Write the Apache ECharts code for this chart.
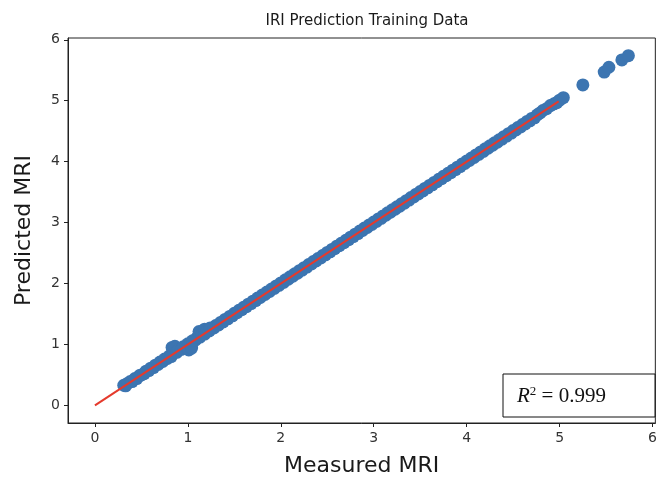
<!DOCTYPE html>
<html>
<head>
<meta charset="utf-8">
<script src="https://cdn.jsdelivr.net/npm/echarts@6/dist/echarts.min.js"></script>
<style>
  html, body { margin: 0; padding: 0; background: #fff; }
  #chart { width: 660px; height: 483px; }
</style>
</head>
<body>
<div id="chart"></div>
<script>
// measured vs predicted MRI
const measured = [
  0.31, 0.33, 0.35, 0.38, 0.40, 0.43, 0.45, 0.48, 0.50, 0.53,
  0.55, 0.58, 0.60, 0.63, 0.65, 0.68, 0.70, 0.73, 0.75, 0.78,
  0.80, 0.82, 0.83, 0.85, 0.86, 0.88, 0.90, 0.93, 0.95, 0.98,
  1.00, 1.01, 1.03, 1.04, 1.05, 1.08, 1.10, 1.12, 1.13, 1.15,
  1.18, 1.18, 1.20, 1.23, 1.24, 1.25, 1.28, 1.30, 1.33, 1.35,
  1.38, 1.40, 1.43, 1.45, 1.48, 1.50, 1.53, 1.55, 1.58, 1.60,
  1.63, 1.65, 1.68, 1.70, 1.73, 1.75, 1.78, 1.80, 1.83, 1.85,
  1.88, 1.90, 1.93, 1.95, 1.98, 2.00, 2.03, 2.05, 2.08, 2.10,
  2.13, 2.15, 2.18, 2.20, 2.23, 2.25, 2.28, 2.30, 2.33, 2.35,
  2.38, 2.40, 2.43, 2.45, 2.48, 2.50, 2.53, 2.55, 2.58, 2.60,
  2.63, 2.65, 2.68, 2.70, 2.73, 2.75, 2.78, 2.80, 2.83, 2.85,
  2.88, 2.90, 2.93, 2.95, 2.98, 3.00, 3.03, 3.05, 3.08, 3.10,
  3.13, 3.15, 3.18, 3.20, 3.23, 3.25, 3.28, 3.30, 3.33, 3.35,
  3.38, 3.40, 3.43, 3.45, 3.48, 3.50, 3.53, 3.55, 3.58, 3.60,
  3.63, 3.65, 3.68, 3.70, 3.73, 3.75, 3.78, 3.80, 3.83, 3.85,
  3.88, 3.90, 3.93, 3.95, 3.98, 4.00, 4.03, 4.05, 4.08, 4.10,
  4.13, 4.15, 4.18, 4.20, 4.23, 4.25, 4.28, 4.30, 4.33, 4.35,
  4.38, 4.40, 4.43, 4.45, 4.48, 4.50, 4.53, 4.55, 4.58, 4.60,
  4.63, 4.65, 4.68, 4.70, 4.73, 4.76, 4.79, 4.82, 4.86, 4.90,
  4.94, 4.97, 5.00, 5.04, 5.25, 5.48, 5.53, 5.67, 5.74
];
const predicted = [
  0.33, 0.32, 0.36, 0.39, 0.39, 0.44, 0.44, 0.49, 0.50, 0.52,
  0.56, 0.57, 0.61, 0.62, 0.66, 0.67, 0.71, 0.72, 0.76, 0.77,
  0.81, 0.80, 0.95, 0.86, 0.97, 0.87, 0.91, 0.92, 0.96, 0.97,
  1.01, 0.91, 1.02, 0.94, 1.06, 1.07, 1.11, 1.21, 1.12, 1.16,
  1.17, 1.25, 1.21, 1.22, 1.27, 1.26, 1.27, 1.31, 1.32, 1.36,
  1.37, 1.41, 1.42, 1.46, 1.47, 1.51, 1.52, 1.56, 1.57, 1.61,
  1.62, 1.66, 1.67, 1.71, 1.72, 1.76, 1.77, 1.81, 1.82, 1.86,
  1.87, 1.91, 1.92, 1.96, 1.97, 2.01, 2.02, 2.06, 2.07, 2.11,
  2.12, 2.16, 2.17, 2.21, 2.22, 2.26, 2.27, 2.31, 2.32, 2.36,
  2.37, 2.41, 2.42, 2.46, 2.47, 2.51, 2.52, 2.56, 2.57, 2.61,
  2.62, 2.66, 2.67, 2.71, 2.72, 2.76, 2.77, 2.81, 2.82, 2.86,
  2.87, 2.91, 2.92, 2.96, 2.97, 3.01, 3.02, 3.06, 3.07, 3.11,
  3.12, 3.16, 3.17, 3.21, 3.22, 3.26, 3.27, 3.31, 3.32, 3.36,
  3.37, 3.41, 3.42, 3.46, 3.47, 3.51, 3.52, 3.56, 3.57, 3.61,
  3.62, 3.66, 3.67, 3.71, 3.72, 3.76, 3.77, 3.81, 3.82, 3.86,
  3.87, 3.91, 3.92, 3.96, 3.97, 4.01, 4.02, 4.06, 4.07, 4.11,
  4.12, 4.16, 4.17, 4.21, 4.22, 4.26, 4.27, 4.31, 4.32, 4.36,
  4.37, 4.41, 4.42, 4.46, 4.47, 4.51, 4.52, 4.56, 4.57, 4.61,
  4.62, 4.66, 4.67, 4.71, 4.72, 4.77, 4.80, 4.84, 4.87, 4.92,
  4.95, 4.97, 5.01, 5.05, 5.26, 5.47, 5.55, 5.67, 5.74
];
// red fit line end points
const fitX = [0, 4.99];
const fitY = [0, 4.99];
const tickValues = [0, 1, 2, 3, 4, 5, 6];
const r2Text = '0.999';

const chart = echarts.init(document.getElementById('chart'));
const font = 'DejaVu Sans';

function axis(name, gap) {
  return {
    type: 'value',
    min: -0.29,
    max: 6.03,
    name: name,
    nameLocation: 'middle',
    nameGap: gap,
    nameTextStyle: { fontFamily: font, fontSize: 22, color: '#1a1a1a' },
    axisLine: { show: true, onZero: false, lineStyle: { color: '#222', width: 1 } },
    axisTick: { show: true, inside: false, length: 4, customValues: tickValues, lineStyle: { color: '#222' } },
    axisLabel: { customValues: tickValues, fontFamily: font, fontSize: 14, color: '#333', margin: 8 },
    splitLine: { show: false }
  };
}

const option = {
  animation: false,
  backgroundColor: '#fff',
  title: {
    text: 'IRI Prediction Training Data',
    left: 362,
    textAlign: 'center',
    top: 9,
    textStyle: { fontFamily: font, fontSize: 15, fontWeight: 'normal', color: '#1a1a1a' }
  },
  grid: {
    left: 68, top: 38, width: 588, height: 385,
    show: true, borderColor: '#222', borderWidth: 1, backgroundColor: 'transparent'
  },
  xAxis: axis('Measured MRI', 32),
  yAxis: axis('Predicted MRI', 33),
  series: [
    {
      type: 'scatter',
      data: measured.map((m, i) => [m, predicted[i]]),
      symbolSize: 13,
      itemStyle: { color: '#3c75b1', opacity: 1 },
      z: 2
    },
    {
      type: 'line',
      data: fitX.map((x, i) => [x, fitY[i]]),
      symbol: 'none',
      lineStyle: { color: '#e53a2c', width: 2 },
      z: 3
    }
  ],
  graphic: [
    {
      type: 'rect',
      shape: { x: 503, y: 374, width: 152, height: 43 },
      style: { fill: '#fff', stroke: '#111', lineWidth: 1 },
      z: 10
    },
    {
      type: 'text',
      x: 517,
      y: 396,
      z: 11,
      style: {
        text: '{i|R}{s|2}{n| = ' + r2Text + '}',
        verticalAlign: 'middle',
        rich: {
          i: { fontFamily: 'Liberation Serif', fontStyle: 'italic', fontSize: 21, fill: '#111' },
          s: { fontFamily: 'Liberation Serif', fontSize: 13, fill: '#111', verticalAlign: 'top', padding: [0, 0, 8, 0] },
          n: { fontFamily: 'Liberation Serif', fontSize: 21, fill: '#111' }
        }
      }
    }
  ]
};
chart.setOption(option);
</script>
</body>
</html>
